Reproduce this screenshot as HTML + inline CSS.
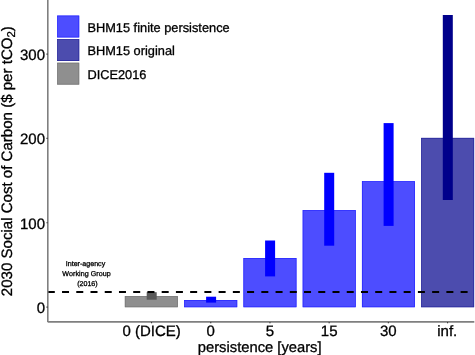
<!DOCTYPE html>
<html>
<head>
<meta charset="utf-8">
<title>2030 Social Cost of Carbon vs persistence</title>
<style>
  html, body { margin: 0; padding: 0; background: #ffffff; }
  body { width: 475px; height: 355px; overflow: hidden; }
  svg { display: block; will-change: transform; filter: brightness(1); }
  text { font-family: "Liberation Sans", sans-serif; fill: #000000; stroke: #000000; stroke-width: 0.3px; text-rendering: geometricPrecision; }
  .tick { font-size: 15px; }
  .xt { font-size: 14.75px; }
  .yt { font-size: 15.07px; }
  .leg { font-size: 12.8px; }
  .ann { font-size: 7.1px; fill: #303030; stroke: none; }
</style>
</head>
<body>
<svg width="475" height="355" viewBox="0 0 475 355">
  <rect x="0" y="0" width="475" height="355" fill="#ffffff"/>

  <!-- bars -->
  <rect x="124.85" y="296.10" width="53.00" height="11.10" fill="#8f8f8f"/>
  <rect x="125.20" y="296.45" width="52.30" height="10.40" fill="none" stroke="#757575" stroke-width="0.70"/>
  <rect x="184.20" y="300.00" width="53.00" height="7.20" fill="#4d4dff"/>
  <rect x="184.55" y="300.35" width="52.30" height="6.50" fill="none" stroke="#2626ff" stroke-width="0.70"/>
  <rect x="243.45" y="258.00" width="53.00" height="49.20" fill="#4d4dff"/>
  <rect x="243.80" y="258.35" width="52.30" height="48.50" fill="none" stroke="#2626ff" stroke-width="0.70"/>
  <rect x="302.70" y="210.10" width="53.00" height="97.10" fill="#4d4dff"/>
  <rect x="303.05" y="210.45" width="52.30" height="96.40" fill="none" stroke="#2626ff" stroke-width="0.70"/>
  <rect x="361.95" y="181.20" width="53.00" height="126.00" fill="#4d4dff"/>
  <rect x="362.30" y="181.55" width="52.30" height="125.30" fill="none" stroke="#2626ff" stroke-width="0.70"/>
  <rect x="421.20" y="137.90" width="52.90" height="169.30" fill="#4c4cae"/>
  <rect x="421.55" y="138.25" width="52.20" height="168.60" fill="none" stroke="#26269c" stroke-width="0.70"/>

  <!-- ranges -->
  <rect x="146.70" y="292.20" width="10.00" height="7.50" fill="#595959"/>
  <rect x="206.10" y="296.70" width="10.00" height="5.90" fill="#0000ff"/>
  <rect x="265.10" y="240.50" width="10.00" height="35.90" fill="#0000ff"/>
  <rect x="324.20" y="172.80" width="10.00" height="72.90" fill="#0000ff"/>
  <rect x="383.60" y="123.10" width="10.00" height="102.80" fill="#0000ff"/>
  <rect x="442.80" y="15.00" width="10.00" height="185.00" fill="#00008b"/>

  <!-- dashed reference line -->
  <line x1="47.8" y1="291.9" x2="474.0" y2="291.9" stroke="#000000" stroke-width="1.95" stroke-dasharray="7.0 7.235"/>

  <!-- axes -->
  <line x1="47.8" y1="0" x2="47.8" y2="322.0" stroke="#7f7f7f" stroke-width="1.6"/>
  <line x1="47.7" y1="321.9" x2="474.3" y2="321.9" stroke="#7f7f7f" stroke-width="1.6"/>

  <!-- y ticks -->
  <g stroke="#1a1a1a" stroke-width="1.1">
    <line x1="46.5" y1="54.1" x2="47.5" y2="54.1"/>
    <line x1="46.5" y1="138.4" x2="47.5" y2="138.4"/>
    <line x1="46.5" y1="222.8" x2="47.5" y2="222.8"/>
    <line x1="46.5" y1="307.1" x2="47.5" y2="307.1"/>
  </g>
  <!-- x ticks -->
  <g stroke="#1a1a1a" stroke-width="1.1">
    <line x1="151.55" y1="322.2" x2="151.55" y2="323.3"/>
    <line x1="210.75" y1="322.2" x2="210.75" y2="323.3"/>
    <line x1="269.95" y1="322.2" x2="269.95" y2="323.3"/>
    <line x1="329.15" y1="322.2" x2="329.15" y2="323.3"/>
    <line x1="388.35" y1="322.2" x2="388.35" y2="323.3"/>
    <line x1="447.55" y1="322.2" x2="447.55" y2="323.3"/>
  </g>

  <!-- y tick labels -->
  <g class="tick" text-anchor="end">
    <text x="45" y="59.8">300</text>
    <text x="45" y="144.1">200</text>
    <text x="45" y="228.5">100</text>
    <text x="45" y="312.7">0</text>
  </g>

  <!-- x tick labels -->
  <g class="tick" text-anchor="middle">
    <text x="151.55" y="335.5">0 (DICE)</text>
    <text x="210.75" y="335.5">0</text>
    <text x="269.95" y="335.5">5</text>
    <text x="329.15" y="335.5">15</text>
    <text x="388.35" y="335.5">30</text>
    <text x="447.3" y="335.5">inf.</text>
  </g>

  <!-- axis titles -->
  <text class="xt" x="259.7" y="351.6" text-anchor="middle">persistence [years]</text>
  <text class="yt" transform="translate(12.3,161.2) rotate(-90)" text-anchor="middle">2030 Social Cost of Carbon ($ per tCO<tspan font-size="11.4px" dy="3">2</tspan><tspan dy="-3">)</tspan></text>

  <!-- legend -->
  <rect x="57.25" y="15.60" width="21.95" height="21.80" fill="#4d4dff"/>
  <rect x="57.60" y="15.95" width="21.25" height="21.10" fill="none" stroke="#2626ff" stroke-width="0.70"/>
  <rect x="57.25" y="39.20" width="21.95" height="21.80" fill="#4c4cae"/>
  <rect x="57.60" y="39.55" width="21.25" height="21.10" fill="none" stroke="#26269c" stroke-width="0.70"/>
  <rect x="57.25" y="62.75" width="21.95" height="21.80" fill="#8f8f8f"/>
  <rect x="57.60" y="63.10" width="21.25" height="21.10" fill="none" stroke="#757575" stroke-width="0.70"/>
  <g class="leg">
    <text x="87.4" y="31.8">BHM15 finite persistence</text>
    <text x="87.4" y="55.4">BHM15 original</text>
    <text x="87.4" y="79.0">DICE2016</text>
  </g>

  <!-- annotation -->
  <g class="ann" text-anchor="middle">
    <text x="85.5" y="266.1">Inter-agency</text>
    <text x="86.55" y="275.8" textLength="48.5">Working Group</text>
    <text x="87.4" y="285.9">(2016)</text>
  </g>
</svg>
</body>
</html>
